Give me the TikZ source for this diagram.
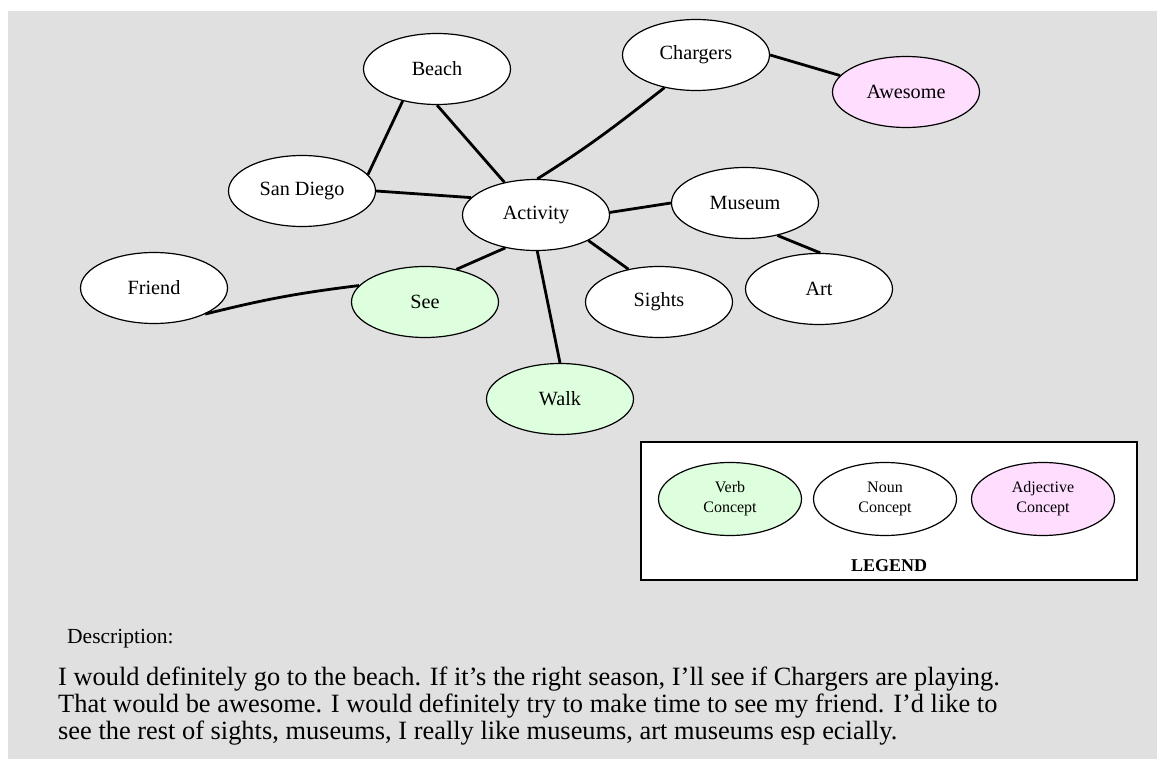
\documentclass[tikz,border=0pt]{standalone}
\usepackage{fontspec}
\setmainfont{Liberation Serif}
\usetikzlibrary{shapes.geometric}
\definecolor{cBack}{HTML}{E0E0E0}
\definecolor{cVerb}{HTML}{DDFFDD}
\definecolor{cAdj} {HTML}{FFDDFF}

\begin{document}
\begin{tikzpicture}[x=1pt, y=-1pt,
    concept/.style={draw=black, fill=white, ellipse, line width=1.2pt,
      minimum width=147pt, minimum height=71pt, inner sep=0pt,
      font=\fontsize{20.2}{22}\selectfont},
    verb/.style={concept, fill=cVerb},
    adj/.style={concept, fill=cAdj},
    key/.style={concept, minimum width=143pt, minimum height=73pt,
      align=center, font=\fontsize{16}{20}\selectfont},
    link/.style={line width=2.8pt}]
  \useasboundingbox (0,0) rectangle (1157,759);
  \fill[cBack] (8,11) rectangle (1157,759);

  % concept map
  \node[concept] (beach)    at (437,69)  {Beach};
  \node[concept] (chargers) at (696,55)  {Chargers};
  \node[adj]     (awesome)  at (906,92)  {Awesome};
  \node[concept] (sandiego) at (302,191) {San Diego};
  \node[concept] (activity) at (536,215) {Activity};
  \node[concept] (museum)   at (745,203) {Museum};
  \node[concept] (friend)   at (154,288) {Friend};
  \node[verb]    (see)      at (425,302) {See};
  \node[concept] (sights)   at (659,302) {Sights};
  \node[concept] (art)      at (819,289) {Art};
  \node[verb]    (walk)     at (560,399) {Walk};

  \draw[link] (beach.223) -- (sandiego.14);
  \draw[link] (beach.270) -- (activity.134);
  \draw[link] (sandiego.0) -- (activity.165);
  \draw[link] (chargers.226) to[out=218, in=32] (activity.88);
  \draw[link] (chargers.0) -- (awesome.166);
  \draw[link] (activity.2) -- (museum.180);
  \draw[link] (museum.-45) -- (art.88);
  \draw[link] (activity.-26) -- (sights.133);
  \draw[link] (activity.227) -- (see.46);
  \draw[link] (activity.272) -- (walk.90);
  \draw[link] (see.166) to[out=187, in=14] (friend.-27);

  % legend
  \node[draw=black, fill=white, line width=1.3pt, minimum width=496pt,
        minimum height=138pt] (legendbox) at (889,511) {};
  \node[key, fill=cVerb] (keyverb) at (730,499) {Verb\\Concept};
  \node[key]             (keynoun) at (885,499) {Noun\\Concept};
  \node[key, fill=cAdj]  (keyadj)  at (1043,499) {Adjective\\Concept};
  \node[font=\fontsize{18}{20}\selectfont\bfseries] (legendtitle) at (889,566) {LEGEND};

  % description
  \node[anchor=west, inner sep=0pt, font=\fontsize{21.5}{27}\selectfont]
        (desclabel) at (67,639) {Description:};
  \node[anchor=west, inner sep=0pt, align=left, font=\fontsize{26.4}{27}\selectfont]
        (desctext) at (58,706) {I would definitely go to the beach. If it’s the right season, I’ll see if Chargers are playing.\\
        That would be awesome. I would definitely try to make time to see my friend. I’d like to\\
        see the rest of sights, museums, I really like museums, art museums esp ecially.};
\end{tikzpicture}
\end{document}
